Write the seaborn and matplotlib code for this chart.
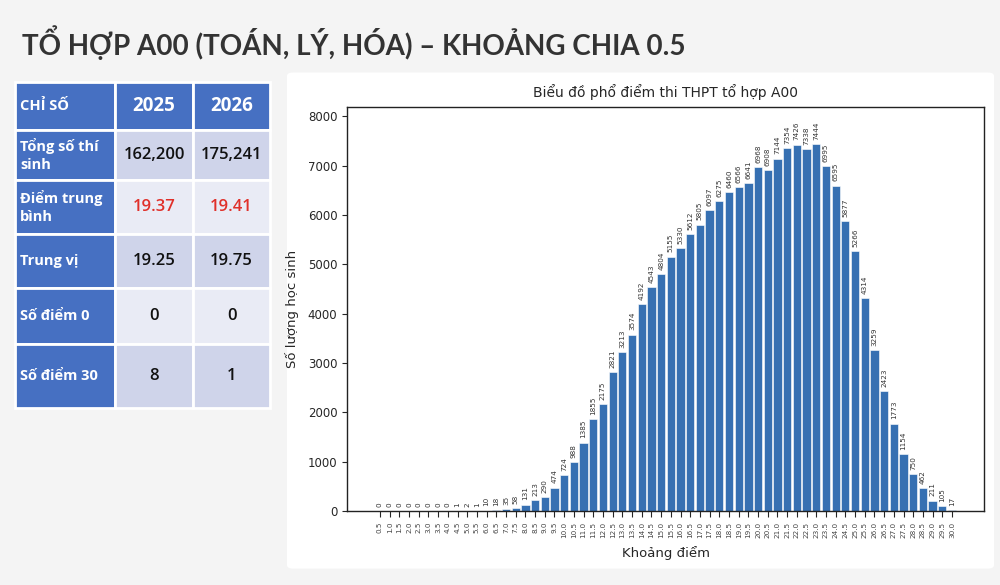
import matplotlib
matplotlib.use("Agg")
import matplotlib.pyplot as plt
from matplotlib.patches import FancyBboxPatch
import pandas as pd
import seaborn as sns


SCORES = [
    "0.5", "1.0", "1.5", "2.0", "2.5", "3.0", "3.5", "4.0", "4.5", "5.0",
    "5.5", "6.0", "6.5", "7.0", "7.5", "8.0", "8.5", "9.0", "9.5", "10.0",
    "10.5", "11.0", "11.5", "12.0", "12.5", "13.0", "13.5", "14.0", "14.5", "15.0",
    "15.5", "16.0", "16.5", "17.0", "17.5", "18.0", "18.5", "19.0", "19.5", "20.0",
    "20.5", "21.0", "21.5", "22.0", "22.5", "23.0", "23.5", "24.0", "24.5", "25.0",
    "25.5", "26.0", "26.5", "27.0", "27.5", "28.0", "28.5", "29.0", "29.5", "30.0",
]
COUNTS = [
    0, 0, 0, 0, 0, 0, 0, 0, 1, 2,
    1, 10, 18, 35, 58, 131, 213, 290, 474, 724,
    988, 1385, 1855, 2175, 2821, 3213, 3574, 4192, 4543, 4804,
    5155, 5330, 5612, 5805, 6097, 6275, 6460, 6566, 6641, 6968,
    6908, 7144, 7354, 7426, 7338, 7444, 6995, 6595, 5877, 5266,
    4314, 3259, 2423, 1773, 1154, 750, 462, 211, 105, 17,
]

TABLE_HEADER = ["CHỈ SỐ", "2025", "2026"]
TABLE_ROWS = ["Tổng số thí\nsinh", "Điểm trung\nbình", "Trung vị", "Số điểm 0", "Số điểm 30"]
VALUES_2025 = ["162,200", "19.37", "19.25", "0", "8"]
VALUES_2026 = ["175,241", "19.41", "19.75", "0", "1"]
HIGHLIGHT_ROW = "Điểm trung\nbình"

PAGE_TITLE = "TỔ HỢP A00 (TOÁN, LÝ, HÓA) – KHOẢNG CHIA 0.5"
CHART_TITLE = "Biểu đồ phổ điểm thi THPT tổ hợp A00"

BAR_COLOR = "#3670b2"
HEAD_BLUE = "#4670c2"
ROW_DARK = "#cfd4ea"
ROW_LIGHT = "#e9ebf5"


def draw_table(ax) -> None:
    ax.set_axis_off()
    cells = [TABLE_HEADER] + [[r, a, b] for r, a, b in zip(TABLE_ROWS, VALUES_2025, VALUES_2026)]
    tbl = ax.table(cellText=cells, bbox=[0, 0, 1, 1], cellLoc="center")
    tbl.auto_set_font_size(False)
    col_w = [100, 78, 77]
    row_h = [48, 50, 54, 54, 56, 64]
    for (r, c), cell in tbl.get_celld().items():
        cell.set_width(col_w[c])
        cell.set_height(row_h[r])
        cell.set_edgecolor("white")
        cell.set_linewidth(2)
        txt = cell.get_text()
        txt.set_fontfamily(["Open Sans", "DejaVu Sans"])
        txt.set_linespacing(1.35)
        if r == 0 or c == 0:
            cell.set_facecolor(HEAD_BLUE)
            txt.set_color("white")
            txt.set_fontweight("bold")
            txt.set_fontsize(13.5 if (r == 0 and c > 0) else 10.5)
            if c == 0:
                txt.set_horizontalalignment("left")
                cell.PAD = 0.05
        else:
            cell.set_facecolor(ROW_DARK if r % 2 == 1 else ROW_LIGHT)
            txt.set_fontsize(12)
            txt.set_fontweight("semibold")
            txt.set_color("#e0302a" if TABLE_ROWS[r - 1] == HIGHLIGHT_ROW else "#111111")


def main() -> None:
    sns.set_style("ticks")
    plt.rcParams["font.family"] = ["DejaVu Sans"]

    fig = plt.figure(figsize=(10, 5.85), dpi=100)
    fig.patch.set_facecolor("#f4f4f4")

    fig.text(0.022, 0.928, PAGE_TITLE, fontsize=20, color="#333333",
             fontfamily=["Lato", "DejaVu Sans"], fontweight="bold", va="center", ha="left")

    panel = FancyBboxPatch((0.287, 0.028), 0.707, 0.848, boxstyle="round,pad=0,rounding_size=0.006",
                           transform=fig.transFigure, facecolor="white", edgecolor="none", zorder=-1)
    fig.patches.append(panel)

    tax = fig.add_axes([0.015, 0.3026, 0.255, 0.557])
    draw_table(tax)

    ax = fig.add_axes([0.347, 0.1265, 0.637, 0.6906])
    df = pd.DataFrame({"score": SCORES, "count": COUNTS})
    sns.barplot(data=df, x="score", y="count", color=BAR_COLOR, saturation=1,
                width=0.85, edgecolor="white", linewidth=0.4, ax=ax)
    ax.bar_label(ax.containers[0], rotation=90, fontsize=5.2, padding=3, color="#333333")
    ax.set_xlim(-3.4, 62.3)
    ax.set_ylim(0, max(COUNTS) * 1.1)
    ax.set_yticks(range(0, 8001, 1000))
    ax.tick_params(axis="x", labelrotation=90, labelsize=5.2, labelcolor="#444444", length=4)
    ax.tick_params(axis="y", labelsize=8.5)
    for s in ax.spines.values():
        s.set_visible(True)
        s.set_linewidth(1.0)
        s.set_color("#222222")
    ax.set_title(CHART_TITLE, fontsize=10, pad=7)
    ax.set_xlabel("Khoảng điểm", fontsize=9.5, labelpad=6)
    ax.set_ylabel("Số lượng học sinh", fontsize=9.5, labelpad=6)

    fig.savefig("out.png", dpi=100, facecolor=fig.get_facecolor())
    plt.close(fig)


if __name__ == "__main__":
    main()
